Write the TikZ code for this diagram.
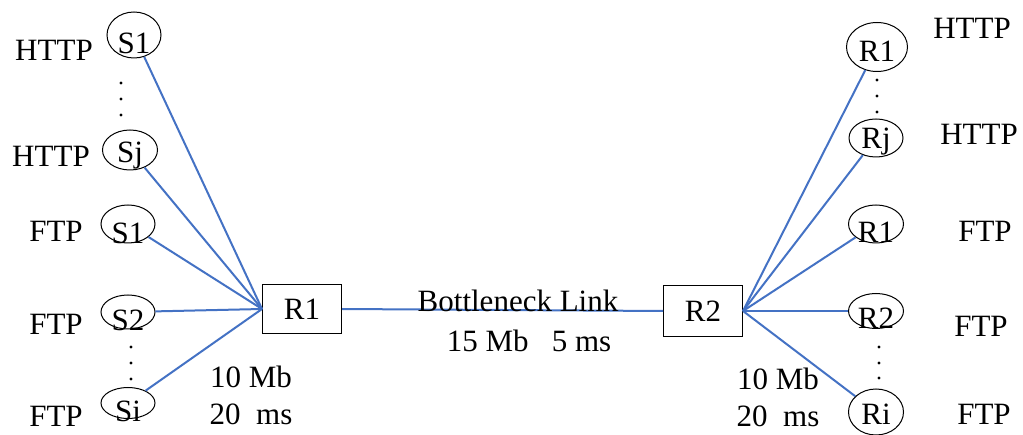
\documentclass[tikz,border=0pt]{standalone}
\usepackage{fontspec}
\setmainfont{Liberation Serif}
\usetikzlibrary{shapes.geometric}
\definecolor{linkblue}{RGB}{68,114,196}
\tikzset{
  host/.style={draw, ellipse, inner sep=0pt, line width=1pt},
  router/.style={draw, rectangle, minimum width=79pt, minimum height=50pt, line width=1pt},
  link/.style={linkblue, line width=2pt},
  txt/.style={anchor=base},
}
\begin{document}
\begin{tikzpicture}[x=1pt, y=-1pt, font=\fontsize{31}{36}\selectfont]
    \useasboundingbox (0,0) rectangle (1023,435);

    % Sources
    \node[host, minimum width=54pt, minimum height=46pt, label={[yshift=-8pt]center:S1}] (sh1) at (134,35) {};
    \node[host, minimum width=55pt, minimum height=40pt, label={[yshift=-6pt]center:Sj}] (shj) at (130,150) {};
    \node[host, minimum width=54pt, minimum height=38pt, label={[yshift=-9pt]center:S1}] (sf1) at (128,224) {};
    \node[host, minimum width=54pt, minimum height=34pt, label={[yshift=-8pt]center:S2}] (sf2) at (128,312) {};
    \node[host, minimum width=54pt, minimum height=31pt, label={[yshift=-8pt]center:Si}] (sfi) at (128,403) {};
    \node[txt] at (54,61) {HTTP};
    \node[txt] at (51,167) {HTTP};
    \node[txt] at (56,242) {FTP};
    \node[txt] at (56,335) {FTP};
    \node[txt] at (56,427) {FTP};
    \foreach \y in {83,99,115} \fill (121,\y) circle (1.6pt);
    \foreach \y in {347,363,379} \fill (131,\y) circle (1.6pt);

    % Receivers
    \node[host, minimum width=61pt, minimum height=49pt, label={[yshift=-4pt]center:R1}] (rh1) at (877,47) {};
    \node[host, minimum width=54pt, minimum height=38pt, label={[yshift=-4pt]center:Rj}] (rhj) at (876,138) {};
    \node[host, minimum width=55pt, minimum height=38pt, label={[yshift=-8pt]center:R1}] (rf1) at (876,224) {};
    \node[host, minimum width=55pt, minimum height=35pt, label={[yshift=-7pt]center:R2}] (rf2) at (876,311) {};
    \node[host, minimum width=55pt, minimum height=46pt, label={[yshift=-2pt]center:Ri}] (rfi) at (876,412) {};
    \node[txt] at (972,39) {HTTP};
    \node[txt] at (979,145) {HTTP};
    \node[txt] at (985,242) {FTP};
    \node[txt] at (981,337) {FTP};
    \node[txt] at (984,425) {FTP};
    \foreach \y in {80,96,112} \fill (877,\y) circle (1.6pt);
    \foreach \y in {347,363,378} \fill (879,\y) circle (1.6pt);

    % Routers
    \node[router, minimum height=49pt] (r1) at (302,309) {R1};
    \node[router, minimum height=51pt] (r2) at (703,311) {R2};

    % Access links
    \foreach \n in {sh1,shj,sf1,sf2,sfi} \draw[link] (r1.west) -- (\n);
    \foreach \n in {rh1,rhj,rf1,rf2,rfi} \draw[link] (r2.east) -- (\n);
    \node[txt] at (251,388) {10 Mb};
    \node[txt] at (251,425) {20\ \ ms};
    \node[txt] at (778,390) {10 Mb};
    \node[txt] at (778,427) {20\ \ ms};

    % Bottleneck
    \draw[link] (r1.east) -- (r2.west);
    \node[txt] at (518,312) {Bottleneck Link};
    \node[txt] at (529,352) {15 Mb\ \ \ 5 ms};
\end{tikzpicture}
\end{document}
